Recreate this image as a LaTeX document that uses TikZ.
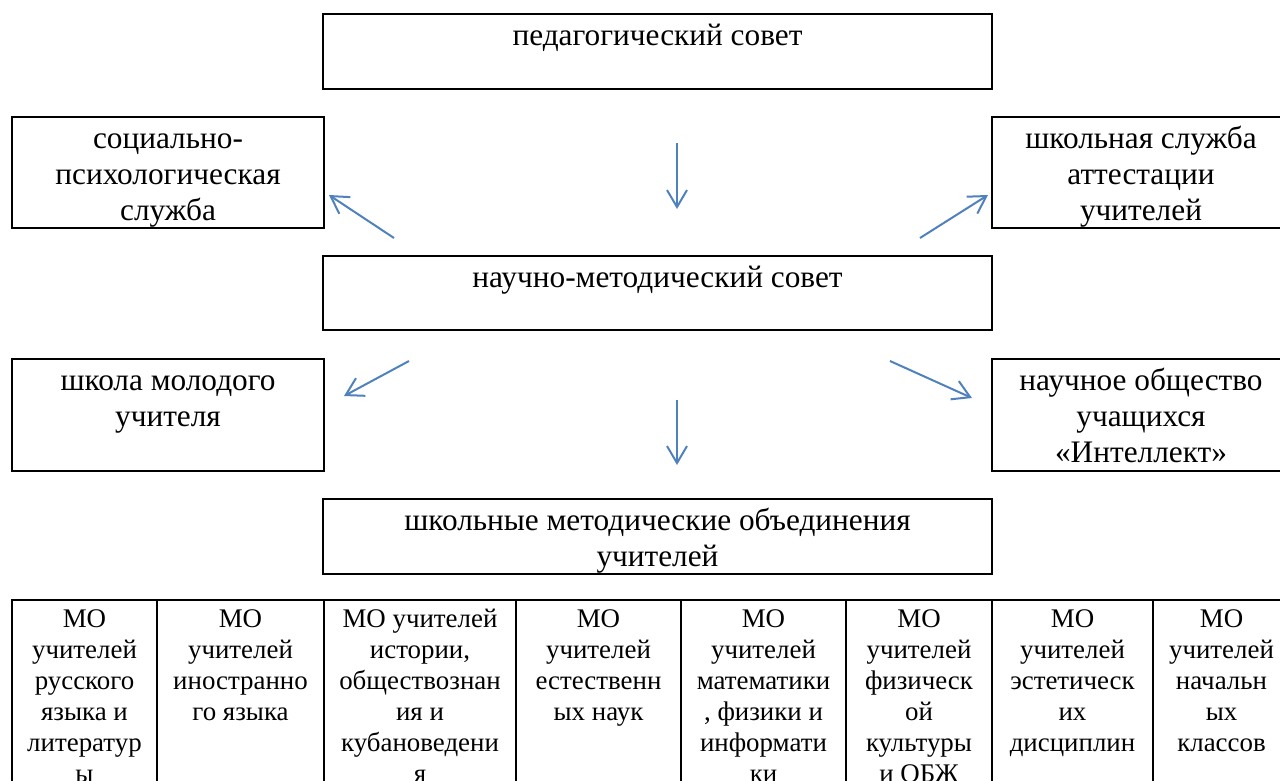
\documentclass[tikz,border=0pt]{standalone}
\usepackage{fontspec}
\setmainfont{Liberation Serif}
\usetikzlibrary{arrows.meta}
\definecolor{arrowblue}{RGB}{79,129,189}
\newcommand{\boxfont}{\fontsize{31.3pt}{36pt}\selectfont}
\newcommand{\cellfont}{\fontsize{26.9pt}{31pt}\selectfont}
\begin{document}
\begin{tikzpicture}[x=1pt,y=-1pt,
    box/.style={draw, line width=2.2pt, inner sep=0pt, outer sep=0pt},
    boxtext/.style={anchor=north, inner sep=0pt, outer sep=0pt, align=center, font=\boxfont},
    celltext/.style={anchor=north, inner sep=0pt, outer sep=0pt, align=center, font=\cellfont},
    link/.style={arrowblue, line width=2pt, -{Straight Barb[length=17pt,width=20pt,line width=2pt]}}]
    \useasboundingbox (0,0) rectangle (1280,780);
    \clip (0,0) rectangle (1280,780);

    % boxes of the scheme
    \node[box, minimum width=669pt, minimum height=75pt] (ped) at (657.5,51.5) {};
    \node[box, minimum width=312pt, minimum height=111pt] (sps) at (168,172.5) {};
    \node[box, minimum width=298pt, minimum height=111pt] (att) at (1141,172.5) {};
    \node[box, minimum width=669pt, minimum height=74pt] (nms) at (657.5,293) {};
    \node[box, minimum width=312pt, minimum height=112pt] (shmu) at (168,415) {};
    \node[box, minimum width=298pt, minimum height=112pt] (nou) at (1141,415) {};
    \node[box, minimum width=669pt, minimum height=75pt] (shmo) at (657.5,536.5) {};

    \node[boxtext] (pedT) at (ped.north) {\rule{0pt}{31.5pt}педагогический совет};
    \node[boxtext] (spsT) at (sps.north) {\rule{0pt}{31.5pt}социально-\\психологическая\\служба};
    \node[boxtext] (attT) at (att.north) {\rule{0pt}{31.5pt}школьная служба\\аттестации\\учителей};
    \node[boxtext] (nmsT) at (nms.north) {\rule{0pt}{31.5pt}научно-методический совет};
    \node[boxtext] (shmuT) at (shmu.north) {\rule{0pt}{31.5pt}школа молодого\\учителя};
    \node[boxtext] (nouT) at (nou.north) {\rule{0pt}{31.5pt}научное общество\\учащихся\\«Интеллект»};
    \node[boxtext] (shmoT) at (shmo.north) {\rule{0pt}{31.5pt}школьные методические объединения\\учителей};

    % table of the МО
    \foreach [count=\i] \x/\w/\t in {
        12/145/{МО\\учителей\\русского\\языка и\\литератур\\ы},
        157/167/{МО\\учителей\\иностранно\\го языка},
        324/192/{МО учителей\\истории,\\обществознан\\ия и\\кубановедени\\я},
        516/165/{МО\\учителей\\естественн\\ых наук},
        681/165/{МО\\учителей\\математики\\, физики и\\информати\\ки},
        846/146/{МО\\учителей\\физическ\\ой\\культуры\\и ОБЖ},
        992/161/{МО\\учителей\\эстетическ\\их\\дисциплин},
        1153/137/{МО\\учителей\\начальн\\ых\\классов}}{
        \node[box, anchor=north west, minimum width=\w pt, minimum height=220pt] (c\i) at (\x,600) {};
        \node[celltext] (t\i) at (c\i.north) {\rule{0pt}{27pt}\t};
    }

    % arrows
    \coordinate (a1s) at (677,143); \coordinate (a1e) at (677,209);
    \coordinate (a2s) at (394,238); \coordinate (a2e) at (329,195);
    \coordinate (a3s) at (920,238); \coordinate (a3e) at (988,195);
    \coordinate (a4s) at (409,361); \coordinate (a4e) at (344,396);
    \coordinate (a5s) at (677,400); \coordinate (a5e) at (677,465);
    \coordinate (a6s) at (890,361); \coordinate (a6e) at (972,398);
    \foreach \k in {1,...,6}
        \draw[link] (a\k s) -- (a\k e);
\end{tikzpicture}
\end{document}
